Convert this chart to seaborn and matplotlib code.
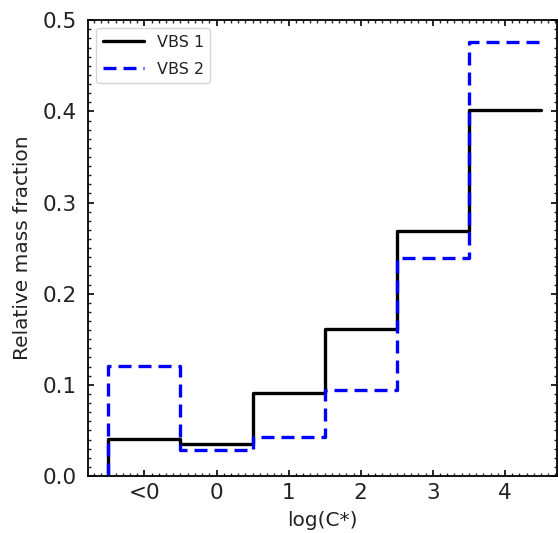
import numpy as np
import pandas as pd
import seaborn as sns
import matplotlib
import matplotlib.pyplot as plt
from matplotlib.ticker import AutoMinorLocator

# Volatility bins (log C*) and their labels
bin_pos = [-1, 0, 1, 2, 3, 4]
bin_labels = ['<0', '0', '1', '2', '3', '4']

# Relative mass fraction per bin
vbs1 = [0.041, 0.035, 0.091, 0.161, 0.269, 0.401]
vbs2 = [0.121, 0.029, 0.043, 0.094, 0.239, 0.476]

sns.set_style('ticks')
plt.rcParams['font.family'] = ['DejaVu Sans']
plt.rcParams['xtick.direction'] = 'in'
plt.rcParams['ytick.direction'] = 'in'
plt.rcParams['xtick.top'] = True
plt.rcParams['ytick.right'] = True
plt.rcParams['axes.edgecolor'] = 'black'
plt.rcParams['axes.linewidth'] = 1.3
plt.rcParams['text.color'] = '#222222'
plt.rcParams['axes.labelcolor'] = '#222222'


def step_frame(vals, name):
    # bin edges + leading zero so the step starts from the x-axis
    edges = [p - 0.5 for p in bin_pos] + [bin_pos[-1] + 0.5]
    xs = [edges[0]] + edges
    ys = [0.0] + list(vals) + [vals[-1]]
    return pd.DataFrame({'x': xs, 'y': ys, 'series': name})


df = pd.concat([step_frame(vbs1, 'VBS 1'), step_frame(vbs2, 'VBS 2')], ignore_index=True)

fig = plt.figure(figsize=(5.58, 5.33), dpi=100)
ax = fig.add_axes([0.158, 0.107, 0.840, 0.855])

sns.lineplot(data=df[df.series == 'VBS 1'], x='x', y='y', ax=ax, estimator=None, sort=False,
             drawstyle='steps-post', color='black', linewidth=2.4, label='VBS 1')
sns.lineplot(data=df[df.series == 'VBS 2'], x='x', y='y', ax=ax, estimator=None, sort=False,
             drawstyle='steps-post', color='blue', linewidth=2.4, dashes=False,
             linestyle=(0, (3.9, 2.1)), label='VBS 2')

ax.set_xlim(-1.78, 4.72)
ax.set_ylim(0, 0.5)
ax.set_xticks(bin_pos)
ax.set_xticklabels(bin_labels)
ax.set_yticks([0.0, 0.1, 0.2, 0.3, 0.4, 0.5])
ax.xaxis.set_minor_locator(AutoMinorLocator(10))
ax.yaxis.set_minor_locator(AutoMinorLocator(10))
ax.tick_params(which='major', length=4, width=1.2, labelsize=15.5, colors='black',
               labelcolor='#222222')
ax.tick_params(axis='y', which='major', pad=8)
ax.tick_params(axis='x', which='major', pad=5)
ax.tick_params(which='minor', length=2.2, width=1)

ax.set_xlabel('log(C*)', fontsize=14.5, labelpad=6)
ax.set_ylabel('Relative mass fraction', fontsize=14.5, labelpad=8)

ax.legend(loc='upper left', fontsize=11.5, frameon=True, fancybox=True,
          handlelength=2.6, labelspacing=0.75)

plt.savefig('out.png', dpi=100)
